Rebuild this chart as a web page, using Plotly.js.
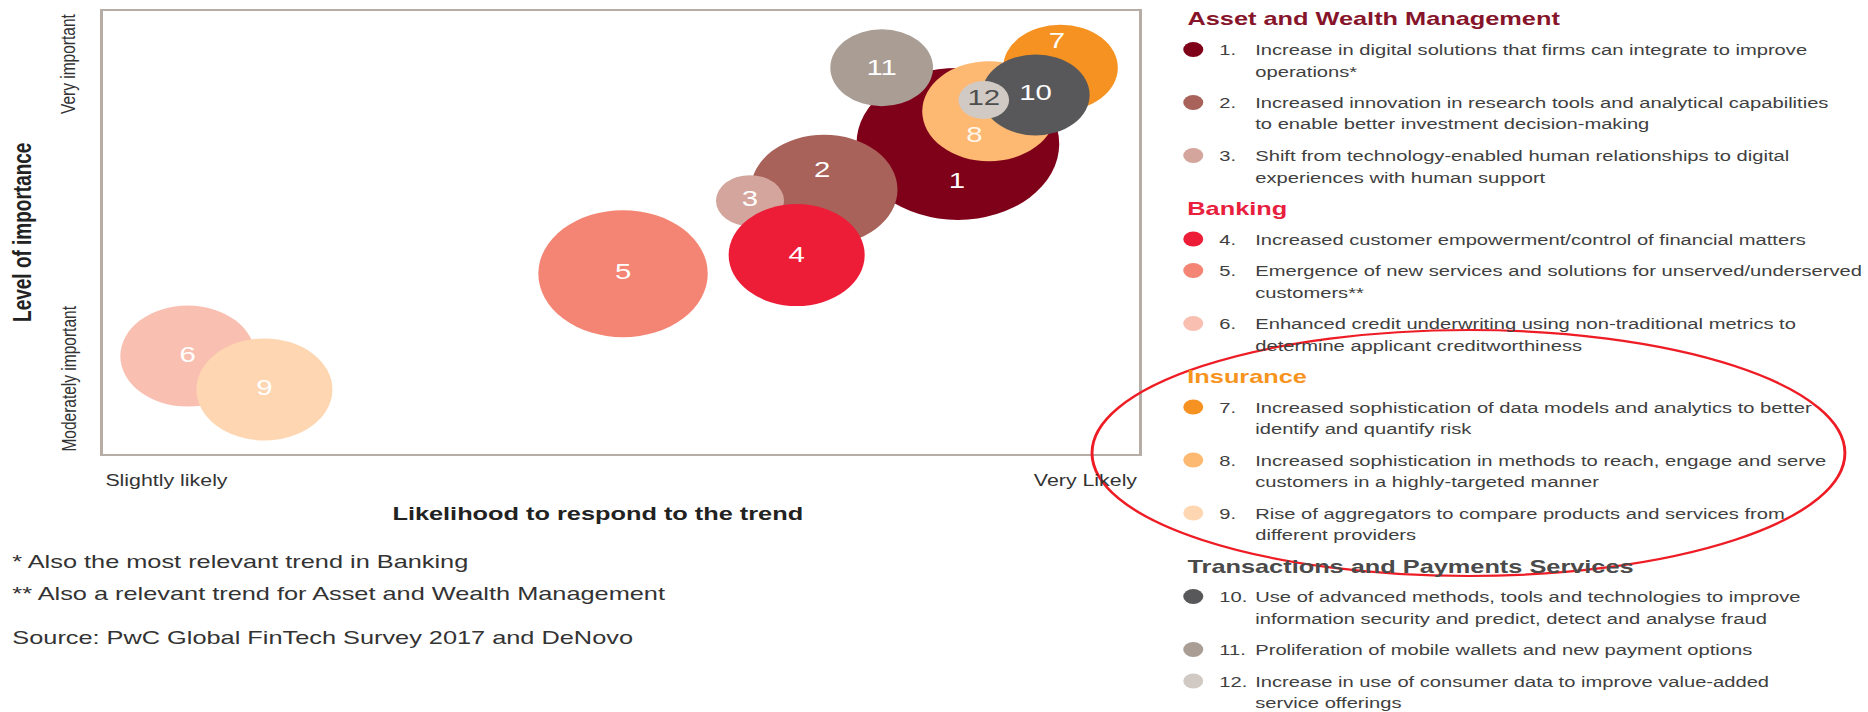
<!DOCTYPE html>
<html><head><meta charset="utf-8">
<script src="https://cdn.plot.ly/plotly-3.0.1.min.js"></script>
<style>
html,body{margin:0;padding:0;background:#fff;overflow:hidden;}
#wrap{width:1868px;height:712px;overflow:hidden;}
#chart{width:1400px;height:712px;transform:scaleX(1.334);transform-origin:0 0;}
</style></head><body><div id="wrap"><div id="chart"></div></div>
<script>
// ---- data ----
const trendIds     = [1, 2, 3, 4, 5, 6, 7, 8, 9, 10, 11, 12];
const likelihood   = [82.5, 69.6, 62.45, 66.95, 50.2, 8.2, 92.4, 85.5, 15.6, 90.0, 75.15, 85.0];
const importance   = [39.9, 34.0, 32.6, 25.6, 23.2, 12.6, 49.7, 44.1, 8.3, 46.2, 49.7, 45.55];
const bubbleSize   = [152, 110, 51, 102, 127, 101, 86, 100, 102, 81, 77, 38];
const bubbleColors = ['#7f0019', '#a8625a', '#d3a59c', '#ed1c37', '#f48473', '#f9bfb1',
                      '#f59222', '#fdb872', '#fed6b1', '#58585a', '#a99d94', '#d1cac4'];
const labelColors  = ['#ffffff', '#ffffff', '#ffffff', '#ffffff', '#ffffff', '#ffffff',
                      '#ffffff', '#fff6ea', '#ffffff', '#ffffff', '#ffffff', '#4e4e4e'];
const labelDx      = [-0.1, -0.2, 0, 0, 0, 0, -0.35, -1.4, 0, 0, 0, 0];
const labelDy      = [-5.0, 2.3, 0, -0.25, 0, 0, 3.2, -3.3, 0, 0, -0.25, 0];
const drawOrder    = [1, 2, 3, 4, 5, 6, 9, 11, 7, 8, 10, 12];

const groupNames   = ['Asset and Wealth Management', 'Banking', 'Insurance', 'Transactions and Payments Services'];
const groupColors  = ['#86152b', '#e8203d', '#f7941d', '#4a4a4a'];
const trendGroup   = [0, 0, 0, 1, 1, 1, 2, 2, 2, 3, 3, 3];
const trendTexts   = [
  'Increase in digital solutions that firms can integrate to improve<br>operations*',
  'Increased innovation in research tools and analytical capabilities<br>to enable better investment decision-making',
  'Shift from technology-enabled human relationships to digital<br>experiences with human support',
  'Increased customer empowerment/control of financial matters',
  'Emergence of new services and solutions for unserved/underserved<br>customers**',
  'Enhanced credit underwriting using non-traditional metrics to<br>determine applicant creditworthiness',
  'Increased sophistication of data models and analytics to better<br>identify and quantify risk',
  'Increased sophistication in methods to reach, engage and serve<br>customers in a highly-targeted manner',
  'Rise of aggregators to compare products and services from<br>different providers',
  'Use of advanced methods, tools and technologies to improve<br>information security and predict, detect and analyse fraud',
  'Proliferation of mobile wallets and new payment options',
  'Increase in use of consumer data to improve value-added<br>service offerings'
];
const xTickLabels = ['Slightly likely', 'Very Likely'];
const yTickLabels = ['Moderately important', 'Very important'];
const xTitle = 'Likelihood to respond to the trend';
const yTitle = 'Level of importance';
const footnotes = ['* Also the most relevant trend in Banking',
                   '** Also a relevant trend for Asset and Wealth Management',
                   'Source: PwC Global FinTech Survey 2017 and DeNovo'];

// ---- layout geometry (unstretched px) ----
const W = 1400, H = 712, ML = 77, MT = 11, PW = 777, PH = 443;
const px2x = b => (b - ML) / PW;
const px2y = y => (MT + PH - y) / PH;
const FONT = 'Arial, "Liberation Sans", Helvetica, sans-serif';

const idx = drawOrder.map(id => trendIds.indexOf(id));

const bubbles = {
  type: 'scatter', mode: 'markers',
  x: idx.map(i => likelihood[i]), y: idx.map(i => importance[i]),
  marker: {size: idx.map(i => bubbleSize[i]), sizemode: 'diameter', sizeref: 1,
           color: idx.map(i => bubbleColors[i]), opacity: 1, line: {width: 0}},
  hoverinfo: 'skip', showlegend: false, cliponaxis: false
};
const labels = {
  type: 'scatter', mode: 'text',
  x: trendIds.map((d, i) => likelihood[i] + labelDx[i]),
  y: trendIds.map((d, i) => importance[i] + labelDy[i]),
  text: trendIds.map(String), textposition: 'middle center',
  textfont: {family: FONT, size: 22, color: labelColors},
  hoverinfo: 'skip', showlegend: false, cliponaxis: false
};

const annotations = [];
const shapes = [];
const ann = (o) => annotations.push(Object.assign({xref: 'paper', yref: 'paper', showarrow: false}, o));

// axis tick labels
ann({x: 0, y: px2y(480), xanchor: 'left', yanchor: 'middle', text: xTickLabels[0], font: {family: FONT, size: 16, color: '#333'}});
ann({x: 1, y: px2y(480), xanchor: 'right', yanchor: 'middle', text: xTickLabels[1], font: {family: FONT, size: 16, color: '#333'}});
ann({x: px2x(50.6), y: 0, xanchor: 'center', yanchor: 'bottom', textangle: -90, text: yTickLabels[0], font: {family: FONT, size: 15.5, color: '#333'}});
ann({x: px2x(50.6), y: 1, xanchor: 'center', yanchor: 'top', textangle: -90, text: yTickLabels[1], font: {family: FONT, size: 15.5, color: '#333'}});
// axis titles
ann({x: px2x(448), y: px2y(513), xanchor: 'center', yanchor: 'middle', text: '<b>' + xTitle + '</b>', font: {family: FONT, size: 19, color: '#222'}});
ann({x: px2x(16.5), y: 0.5, xanchor: 'center', yanchor: 'middle', textangle: -90, text: '<b>' + yTitle + '</b>', font: {family: FONT, size: 19, color: '#222'}});
// footnotes
const footY = [561, 593, 637];
footnotes.forEach((t, k) => ann({x: px2x(7), y: px2y(footY[k]), xanchor: 'left', yanchor: 'middle', text: t, font: {family: FONT, size: 19, color: '#333'}}));

// custom legend
const LH = 21.5, ITEM_GAP = 10, HEAD_GAP = 30.5, ITEM_FONT = 15.1;
let yc = 19;
groupNames.forEach((g, gi) => {
  ann({x: px2x(888.3), y: px2y(yc), xanchor: 'left', yanchor: 'middle', text: '<b>' + g + '</b>', font: {family: FONT, size: 19, color: groupColors[gi]}});
  yc += HEAD_GAP;
  trendIds.forEach((id, i) => {
    if (trendGroup[i] !== gi) return;
    shapes.push({type: 'circle', xref: 'paper', yref: 'paper', xsizemode: 'pixel', ysizemode: 'pixel',
      xanchor: px2x(894.5), yanchor: px2y(yc), x0: -7.5, x1: 7.5, y0: -7.5, y1: 7.5,
      fillcolor: bubbleColors[i], line: {width: 0}});
    ann({x: px2x(911.5), y: px2y(yc), xanchor: 'left', yanchor: 'middle', text: id + '.', font: {family: FONT, size: ITEM_FONT, color: '#404040'}});
    const lines = trendTexts[i].split('<br>');
    lines.forEach((ln, k) => {
      ann({x: px2x(938.5), y: px2y(yc + k * LH), xanchor: 'left', yanchor: 'middle', text: ln, font: {family: FONT, size: ITEM_FONT, color: '#404040'}});
    });
    yc += lines.length * LH + ITEM_GAP;
  });
});

// red emphasis ellipse
shapes.push({type: 'circle', xref: 'paper', yref: 'paper', layer: 'above',
  x0: px2x(818.6), x1: px2x(1383), y0: px2y(576), y1: px2y(330),
  line: {color: '#ee1c24', width: 2.2}, fillcolor: 'rgba(0,0,0,0)'});

const axisBase = {showgrid: false, zeroline: false, showticklabels: false, ticks: '',
  showline: true, mirror: true, linecolor: '#b6ada6', linewidth: 2, fixedrange: true};

const layout = {
  width: W, height: H,
  margin: {l: ML, r: W - ML - PW, t: MT, b: H - MT - PH, pad: 0},
  paper_bgcolor: '#ffffff', plot_bgcolor: '#ffffff',
  xaxis: Object.assign({range: [0, 100]}, axisBase),
  yaxis: Object.assign({range: [0, 57]}, axisBase),
  showlegend: false,
  annotations: annotations, shapes: shapes,
  font: {family: FONT}
};

Plotly.newPlot('chart', [bubbles, labels], layout, {staticPlot: true, displayModeBar: false, responsive: false});
</script></body></html>
